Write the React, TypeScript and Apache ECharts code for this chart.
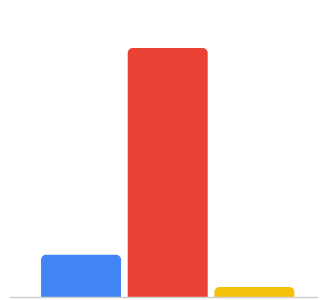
import React, { useEffect, useRef } from "react";
import * as echarts from "echarts";

const categories = ["A", "B", "C"];
const values = [17, 100, 4];
const colors = ["#4285F4", "#EA4335", "#F4C20D"];

export default function App() {
  const ref = useRef<HTMLDivElement>(null);
  useEffect(() => {
    const chart = echarts.init(ref.current!, null, { renderer: "svg" });
    chart.setOption({
      animation: false,
      grid: { left: 37.7, right: 24.3, top: 48, bottom: 3 },
      xAxis: {
        type: "category",
        data: categories,
        axisLine: { show: false },
        axisTick: { show: false },
        axisLabel: { show: false },
      },
      yAxis: {
        type: "value",
        min: 0,
        max: 100,
        show: false,
        splitLine: { show: false },
      },
      graphic: [
        {
          type: "line",
          shape: { x1: 10, y1: 297.5, x2: 318, y2: 297.5 },
          style: { stroke: "#d0d0d0", lineWidth: 1.5 },
          z: 10,
        },
      ],
      series: [
        {
          type: "bar",
          barWidth: 80,
          data: values.map((v, i) => ({
            value: v,
            itemStyle: { color: colors[i], borderRadius: [5, 5, 0, 0] },
          })),
        },
      ],
    });
    return () => chart.dispose();
  }, []);
  return (
    <div
      ref={ref}
      style={{ position: "fixed", left: 0, top: 0, width: 322, height: 300 }}
    />
  );
}
